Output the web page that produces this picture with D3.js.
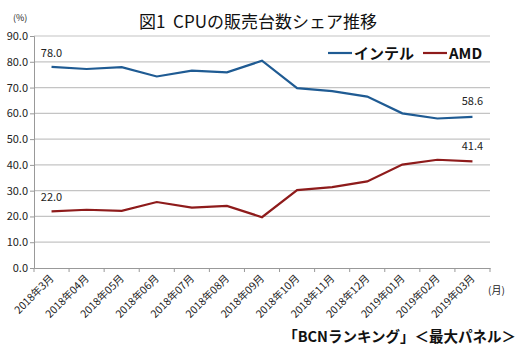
<!DOCTYPE html>
<html>
<head>
<meta charset="utf-8">
<script src="https://cdn.jsdelivr.net/npm/d3@7"></script>
<style>
body { margin: 0; background: #fff; }
text { font-family: "Noto Sans CJK JP", "DejaVu Sans", sans-serif; }
</style>
</head>
<body>
<div id="chart"></div>
<script>
var months = ["2018年3月", "2018年04月", "2018年05月", "2018年06月", "2018年07月", "2018年08月",
    "2018年09月", "2018年10月", "2018年11月", "2018年12月", "2019年01月", "2019年02月", "2019年03月"];
var intel = [78.0, 77.2, 77.9, 74.3, 76.6, 75.9, 80.4, 69.8, 68.6, 66.5, 60.0, 58.0, 58.6];
var amd = [22.0, 22.6, 22.2, 25.6, 23.4, 24.1, 19.7, 30.2, 31.4, 33.6, 40.1, 42.0, 41.4];
var yTicks = [0, 10, 20, 30, 40, 50, 60, 70, 80, 90];

var W = 524, H = 353;
var margin = { top: 36, right: 34, bottom: 85, left: 34 },
    width = W - margin.left - margin.right,
    height = H - margin.top - margin.bottom;

var svg = d3.select("#chart")
    .append("svg")
    .attr("width", W)
    .attr("height", H);

var g = svg.append("g")
    .attr("transform", "translate(" + margin.left + "," + margin.top + ")");

var x = d3.scaleBand()
    .domain(months)
    .range([0, width]);

var y = d3.scaleLinear()
    .domain([0, 90])
    .range([height, 0]);

// gridlines
g.selectAll(".grid")
    .data(yTicks.slice(1))
    .enter()
    .append("line")
    .attr("x1", 0)
    .attr("x2", width)
    .attr("y1", function (d) { return y(d) })
    .attr("y2", function (d) { return y(d) })
    .style("stroke", "#c4c4c4")
    .style("stroke-width", 1.2);

// y axis
var yAxis = g.append("g")
    .call(d3.axisLeft(y).tickValues(yTicks).tickSize(4).tickFormat(d3.format(".1f")));
yAxis.select(".domain").style("stroke", "#999");
yAxis.selectAll(".tick line").style("stroke", "#999");
yAxis.selectAll("text")
    .attr("x", -6)
    .style("font-size", "11px")
    .style("fill", "#222");

// x axis, ticks on band edges
var xAxis = g.append("g")
    .attr("transform", "translate(0," + height + ")")
    .call(d3.axisBottom(x).tickSize(0).tickFormat(""));
xAxis.select(".domain").style("stroke", "#999");

var edges = months.map(function (m) { return x(m) }).concat([width]);
xAxis.selectAll(".edge")
    .data(edges)
    .enter()
    .append("line")
    .attr("x1", function (d) { return d })
    .attr("x2", function (d) { return d })
    .attr("y1", 0)
    .attr("y2", 4)
    .style("stroke", "#999");

xAxis.selectAll(".lab")
    .data(months)
    .enter()
    .append("text")
    .attr("text-anchor", "end")
    .attr("transform", function (d) {
        return "translate(" + (x(d) + x.bandwidth() / 2 + 3) + ",11) rotate(-45)";
    })
    .style("font-size", "10.5px")
    .style("fill", "#222")
    .text(function (d) { return d });

var line = d3.line()
    .x(function (d, i) { return x(months[i]) + x.bandwidth() / 2 })
    .y(function (d) { return y(d) });

g.append("path")
    .datum(intel)
    .attr("d", line)
    .style("fill", "none")
    .style("stroke", "#1f5b93")
    .style("stroke-width", 2.2);

g.append("path")
    .datum(amd)
    .attr("d", line)
    .style("fill", "none")
    .style("stroke", "#8e1b1b")
    .style("stroke-width", 2.2);

// data labels for first and last points
var last = months.length - 1;
var labels = [
    { i: 0, v: intel[0], dy: -10 },
    { i: 0, v: amd[0], dy: -10 },
    { i: last, v: intel[last], dy: -12 },
    { i: last, v: amd[last], dy: -11 }
];
g.selectAll(".dl")
    .data(labels)
    .enter()
    .append("text")
    .attr("x", function (d) { return x(months[d.i]) + x.bandwidth() / 2 })
    .attr("y", function (d) { return y(d.v) + d.dy })
    .attr("text-anchor", "middle")
    .style("font-size", "11px")
    .style("fill", "#222")
    .text(function (d) { return d3.format(".1f")(d.v) });

// title
svg.append("text")
    .attr("x", 258)
    .attr("y", 28)
    .attr("text-anchor", "middle")
    .style("font-size", "17px")
    .style("fill", "#111")
    .style("white-space", "pre")
    .text("図1  CPUの販売台数シェア推移");

svg.append("text")
    .attr("x", 13)
    .attr("y", 21)
    .style("font-size", "9px")
    .style("fill", "#222")
    .text("(%)");

// legend
var legend = [{ name: "インテル", color: "#1f5b93", x: 328 }, { name: "AMD", color: "#8e1b1b", x: 423 }];
legend.forEach(function (l) {
    svg.append("line")
        .attr("x1", l.x)
        .attr("x2", l.x + 24)
        .attr("y1", 53)
        .attr("y2", 53)
        .style("stroke", l.color)
        .style("stroke-width", 2.2);
    svg.append("text")
        .attr("x", l.x + 26)
        .attr("y", 59)
        .style("font-size", "15px")
        .style("font-weight", "bold")
        .style("fill", "#111")
        .text(l.name);
});

svg.append("text")
    .attr("x", 488)
    .attr("y", 294)
    .style("font-size", "10px")
    .style("fill", "#222")
    .text("(月)");

svg.append("text")
    .attr("x", 516)
    .attr("y", 342)
    .attr("text-anchor", "end")
    .style("font-size", "14.5px")
    .style("font-weight", "bold")
    .style("fill", "#111")
    .text("「BCNランキング」＜最大パネル＞");
</script>
</body>
</html>
